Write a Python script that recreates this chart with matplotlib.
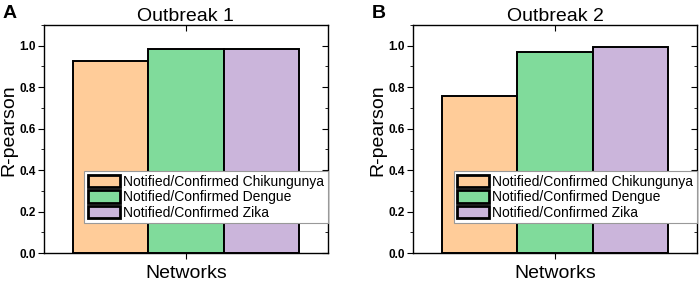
import matplotlib.pyplot as plt
from matplotlib.ticker import MultipleLocator

plt.rcParams['font.family'] = ['Liberation Sans', 'DejaVu Sans']

series = ["Notified/Confirmed Chikungunya", "Notified/Confirmed Dengue", "Notified/Confirmed Zika"]
colors = ["#FFCC99", "#80DB9B", "#CBB5DB"]
outbreak1 = [0.924, 0.986, 0.985]
outbreak2 = [0.756, 0.970, 0.993]
titles = ["Outbreak 1", "Outbreak 2"]
panels = ["A", "B"]


def draw(ax, values, title, panel):
    w = 0.265
    for i, v in enumerate(values):
        ax.bar((i - 1) * w, v, width=w, color=colors[i], edgecolor="black",
               linewidth=1.4, label=series[i])
    ax.set_xlim(-0.5, 0.5)
    ax.set_ylim(0, 1.1)
    ax.set_xticks([0])
    ax.set_xticklabels([""])
    ax.yaxis.set_major_locator(MultipleLocator(0.2))
    ax.yaxis.set_minor_locator(MultipleLocator(0.1))
    ax.tick_params(axis="y", which="both", direction="out", right=False)
    ax.tick_params(axis="y", which="major", length=4, labelsize=8.5, pad=2)
    ax.tick_params(axis="y", which="minor", length=2.5)
    ax.tick_params(axis="x", direction="out", length=4)
    for lbl in ax.get_yticklabels():
        lbl.set_fontweight("bold")
    # inward ticks on the top and right spine
    sec = ax.secondary_yaxis("right")
    sec.yaxis.set_major_locator(MultipleLocator(0.2))
    sec.yaxis.set_minor_locator(MultipleLocator(0.1))
    sec.tick_params(which="both", direction="in", labelright=False)
    sec.tick_params(which="major", length=4)
    sec.tick_params(which="minor", length=2.5)
    sec.spines["right"].set_visible(False)
    top = ax.secondary_xaxis("top")
    top.set_xticks([0])
    top.set_xticklabels([""])
    top.tick_params(direction="in", length=4)
    top.spines["top"].set_visible(False)
    for s in ax.spines.values():
        s.set_linewidth(1.0)
    ax.set_title(title, fontsize=14, pad=2)
    ax.set_ylabel("R-pearson", fontsize=14)
    ax.yaxis.set_label_coords(-0.095, 0.54)
    ax.set_xlabel("Networks", fontsize=14, labelpad=1)
    leg = ax.legend(loc="lower right", bbox_to_anchor=(1.0, 0.13), fontsize=10,
                    frameon=True, fancybox=False, edgecolor="#999999", framealpha=1,
                    handlelength=2.3, handleheight=1.0, handletextpad=0.25,
                    labelspacing=0.12, borderpad=0.25, borderaxespad=0)
    leg.get_frame().set_linewidth(0.8)
    for h in leg.legend_handles:
        h.set_linewidth(2.0)
    ax.text(-0.145, 1.088, panel, transform=ax.transAxes, fontsize=14,
            fontweight="bold", va="top", ha="left")


fig = plt.figure(figsize=(6.99, 2.86), dpi=100)
ax1 = fig.add_axes([0.063, 0.115, 0.406, 0.798])
ax2 = fig.add_axes([0.591, 0.115, 0.406, 0.798])
draw(ax1, outbreak1, titles[0], panels[0])
draw(ax2, outbreak2, titles[1], panels[1])

fig.savefig("out.png", dpi=100)
